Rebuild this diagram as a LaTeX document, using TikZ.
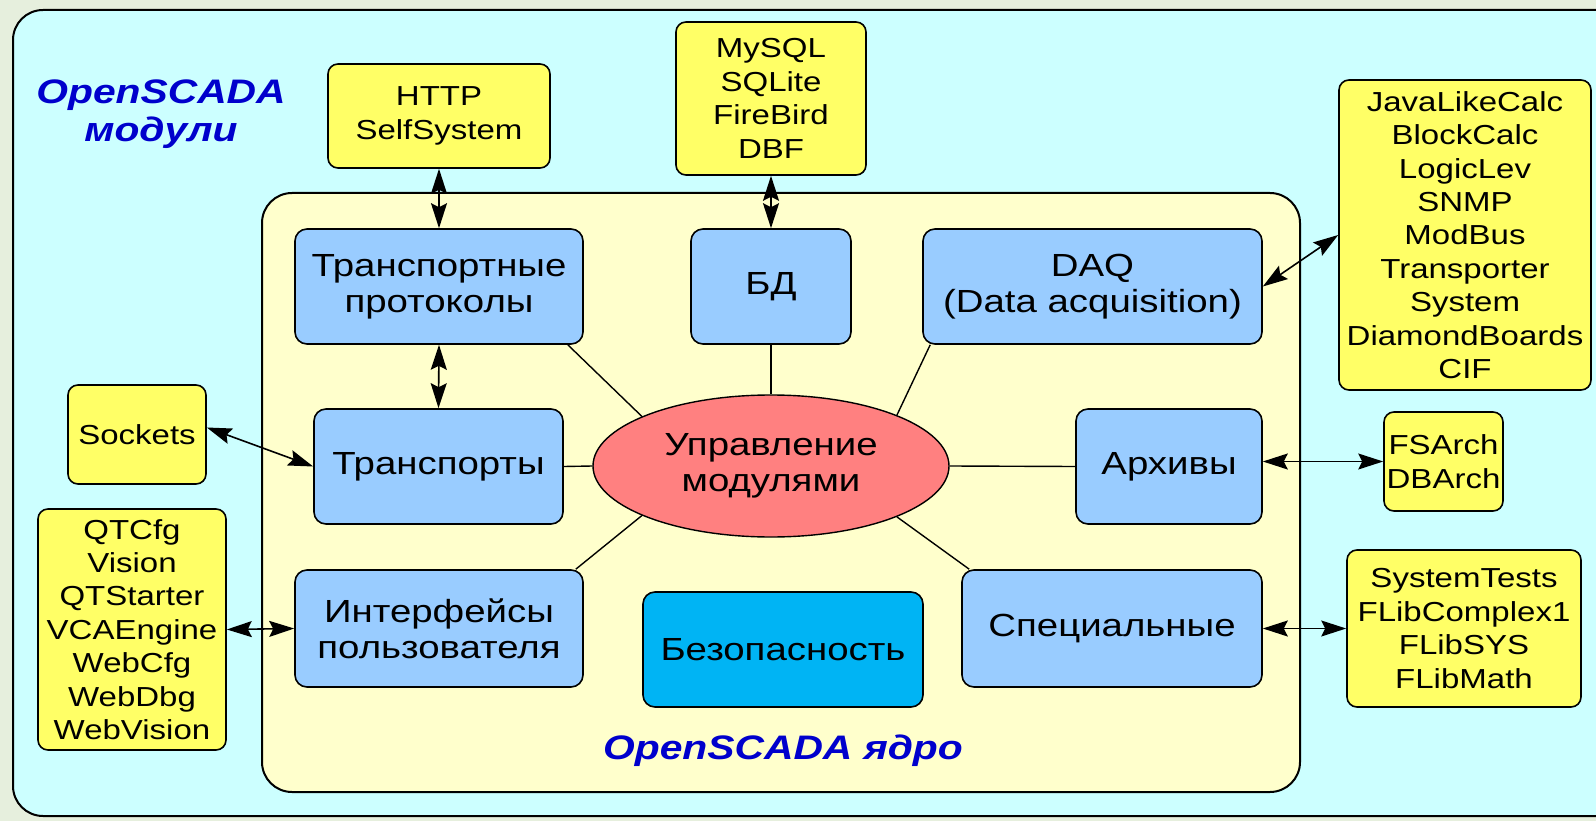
\documentclass[tikz,border=0pt]{standalone}
\usepackage{fontspec}
\setmainfont{Liberation Sans}[FakeStretch=1.2]
\usetikzlibrary{arrows.meta,shapes.geometric}
\definecolor{bgout}{HTML}{E6EFDD}
\definecolor{modbg}{HTML}{CCFFFF}
\definecolor{corebg}{HTML}{FFFFCC}
\definecolor{blubox}{HTML}{99CCFF}
\definecolor{secbox}{HTML}{00B4F4}
\definecolor{yelbox}{HTML}{FFFF66}
\definecolor{ctrlred}{HTML}{FF8080}
\definecolor{lblblue}{HTML}{0000CC}
\begin{document}
\begin{tikzpicture}[x=1pt,y=-1pt,
  ybox/.style={draw=black,line width=1.6pt,fill=yelbox,rounded corners=10pt,inner sep=0pt,align=center,
    font=\fontsize{27.5}{33.4}\selectfont},
  bbox/.style={draw=black,line width=1.6pt,fill=blubox,rounded corners=12pt,inner sep=0pt,align=center,
    font=\fontsize{32}{36}\selectfont},
  lbl/.style={text=lblblue,align=center,font=\fontsize{34}{38}\selectfont\bfseries\itshape},
  link/.style={line width=1.4pt},
  biarrow/.style={line width=1.6pt,>={Stealth[length=25pt,width=16pt,inset=4pt]},<->}
]
\useasboundingbox (0,0) rectangle (1596,821);
\fill[bgout] (0,0) rectangle (1596,821);
% outer modules area
\draw[line width=2pt,fill=modbg,rounded corners=30pt] (13,10) rectangle (1640,816);
% core area
\draw[line width=2pt,fill=corebg,rounded corners=30pt] (262,193) rectangle (1300,792);

\node[lbl] (modlbl) at (161,114) {OpenSCADA\\модули};
\node[lbl] (corelbl) at (783,751) {OpenSCADA ядро};

% module (yellow) boxes
\node[ybox,minimum width=222pt,minimum height=104pt] (http) at (439,116) {HTTP\\SelfSystem};
\node[ybox,minimum width=190pt,minimum height=153pt] (mysql) at (771,98.5) {MySQL\\SQLite\\FireBird\\DBF};
\node[ybox,minimum width=252pt,minimum height=310pt] (java) at (1465,235) {JavaLikeCalc\\BlockCalc\\LogicLev\\SNMP\\ModBus\\Transporter\\System\\DiamondBoards\\CIF};
\node[ybox,minimum width=138pt,minimum height=99pt] (sockets) at (137,434.5) {Sockets};
\node[ybox,minimum width=188pt,minimum height=241pt] (qt) at (132,629.5) {QTCfg\\Vision\\QTStarter\\VCAEngine\\WebCfg\\WebDbg\\WebVision};
\node[ybox,minimum width=119pt,minimum height=99pt] (fsarch) at (1443.5,461.5) {FSArch\\DBArch};
\node[ybox,minimum width=234pt,minimum height=157pt] (systests) at (1464,628.5) {SystemTests\\FLibComplex1\\FLibSYS\\FLibMath};

% core (blue) boxes
\node[bbox,minimum width=288pt,minimum height=115pt] (tp) at (439,286.5) {Транспортные\\протоколы};
\node[bbox,minimum width=160pt,minimum height=115pt] (bd) at (771,286.5) {БД};
\node[bbox,minimum width=339pt,minimum height=115pt] (daq) at (1092.5,286.5) {DAQ\\(Data acquisition)};
\node[bbox,minimum width=249pt,minimum height=115pt] (trans) at (438.5,466.5) {Транспорты};
\node[bbox,minimum width=186pt,minimum height=115pt] (arch) at (1169,466.5) {Архивы};
\node[bbox,minimum width=288pt,minimum height=117pt] (iface) at (439,628.5) {Интерфейсы\\пользователя};
\node[bbox,fill=secbox,minimum width=280pt,minimum height=115pt] (sec) at (783,649.5) {Безопасность};
\node[bbox,minimum width=300pt,minimum height=117pt] (spec) at (1112,628.5) {Специальные};

% module manager ellipse
\node[ellipse,draw=black,line width=1.4pt,fill=ctrlred,minimum width=356pt,minimum height=142pt,inner sep=0pt,
  align=center,font=\fontsize{32}{36}\selectfont] (ctrl) at (771,466) {Управление\\модулями};

% plain links to the manager
\draw[link] ([xshift=-16pt]tp.south east) -- (ctrl.159);
\draw[link] (bd.south) -- (ctrl.north);
\draw[link] ([xshift=8pt]daq.south west) -- (ctrl.22);
\draw[link] (trans.east) -- (ctrl.west);
\draw[link] (arch.west) -- (ctrl.east);
\draw[link] ([xshift=-8pt]iface.north east) -- (ctrl.201);
\draw[link] ([xshift=8pt]spec.north west) -- (ctrl.338);

% module connections
\draw[biarrow] (http.south) -- (tp.north);
\draw[biarrow] (tp.south) -- (trans.north);
\draw[biarrow] (mysql.south) -- (bd.north);
\draw[biarrow] (daq.east) -- (java.west);
\draw[biarrow] ([yshift=7pt]sockets.east) -- (trans.west);
\draw[biarrow] (qt.east) -- (iface.west);
\draw[biarrow] (fsarch.west -| arch.east) -- (fsarch.west);
\draw[biarrow] (spec.east) -- (systests.west);
\end{tikzpicture}
\end{document}
